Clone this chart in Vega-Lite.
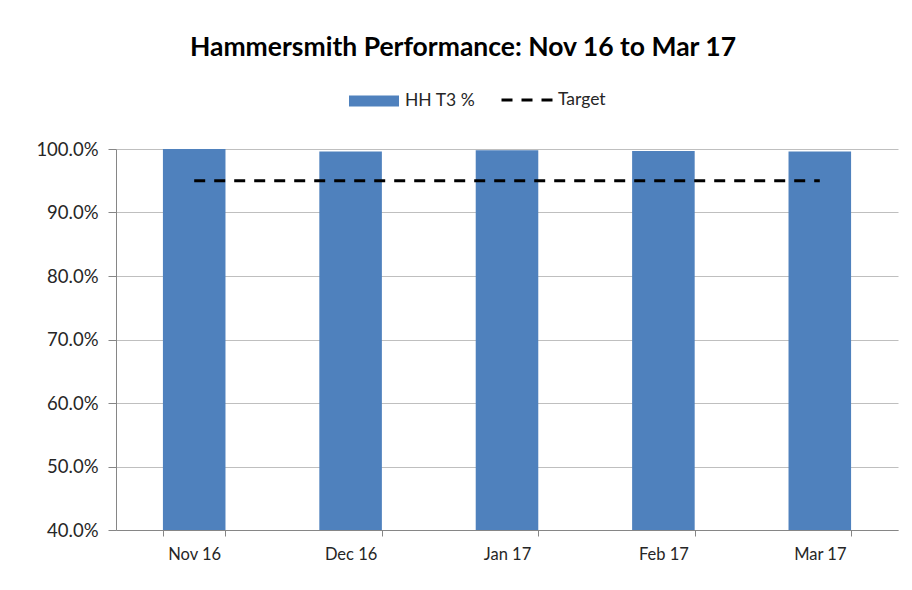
{
  "$schema": "https://vega.github.io/schema/vega-lite/v6.json",
  "autosize": {"type": "none"},
  "width": 782,
  "height": 381,
  "padding": {"left": 116, "top": 149, "right": 14, "bottom": 60},
  "background": "white",
  "config": {
    "font": "Lato",
    "view": {"stroke": null}
  },
  "title": {
    "text": "Hammersmith Performance: Nov 16 to Mar 17",
    "font": "Lato",
    "fontSize": 26.5,
    "fontWeight": "bold",
    "color": "black",
    "anchor": "middle",
    "frame": "group",
    "dx": -44,
    "offset": 12
  },
  "data": {
    "values": [
      {"month": "Nov 16", "value": 1.0, "target": 0.95},
      {"month": "Dec 16", "value": 0.996, "target": 0.95},
      {"month": "Jan 17", "value": 0.998, "target": 0.95},
      {"month": "Feb 17", "value": 0.997, "target": 0.95},
      {"month": "Mar 17", "value": 0.996, "target": 0.95}
    ]
  },
  "encoding": {
    "x": {
      "field": "month",
      "type": "nominal",
      "sort": null,
      "scale": {"paddingInner": 0.6, "paddingOuter": 0.3},
      "axis": {
        "title": null,
        "labelAngle": 0,
        "labelFontSize": 16.5,
        "labelColor": "#262626",
        "labelPadding": 10,
        "tickBand": "extent",
        "tickSize": 6,
        "tickColor": "#868686",
        "domainColor": "#868686",
        "grid": false
      }
    }
  },
  "layer": [
    {
      "mark": {"type": "bar", "clip": true},
      "encoding": {
        "y": {
          "field": "value",
          "type": "quantitative",
          "scale": {"domain": [0.4, 1.0], "zero": false, "nice": false},
          "axis": {
            "title": null,
            "format": ".1%",
            "values": [0.4, 0.5, 0.6, 0.7, 0.8, 0.9, 1.0],
            "labelFontSize": 18.5,
            "labelColor": "#262626",
            "labelPadding": 10,
            "tickSize": 8,
            "tickColor": "#868686",
            "domainColor": "#868686",
            "gridColor": "#BFBFBF",
            "grid": true
          }
        },
        "fill": {
          "datum": "HH T3 %",
          "scale": {"range": ["#4F81BD"]},
          "legend": {
            "title": null,
            "orient": "none",
            "legendX": 233,
            "legendY": -73,
            "symbolType": "M-1,-0.22H1V0.22H-1Z",
            "symbolSize": 2500,
            "symbolStrokeWidth": 0,
            "labelFontSize": 17.5,
            "labelColor": "#262626",
            "labelOffset": 6,
            "padding": 0
          }
        }
      }
    },
    {
      "mark": {"type": "line", "color": "black", "strokeWidth": 3},
      "encoding": {
        "y": {"field": "target", "type": "quantitative"},
        "strokeDash": {
          "datum": "Target",
          "scale": {"range": [[11, 9]]},
          "legend": {
            "title": null,
            "orient": "none",
            "legendX": 384,
            "legendY": -76,
            "symbolType": "stroke",
            "symbolSize": 2601,
            "symbolStrokeWidth": 3,
            "symbolStrokeColor": "black",
            "labelFontSize": 17.5,
            "labelColor": "#262626",
            "labelOffset": 4,
            "padding": 0
          }
        }
      }
    }
  ]
}
